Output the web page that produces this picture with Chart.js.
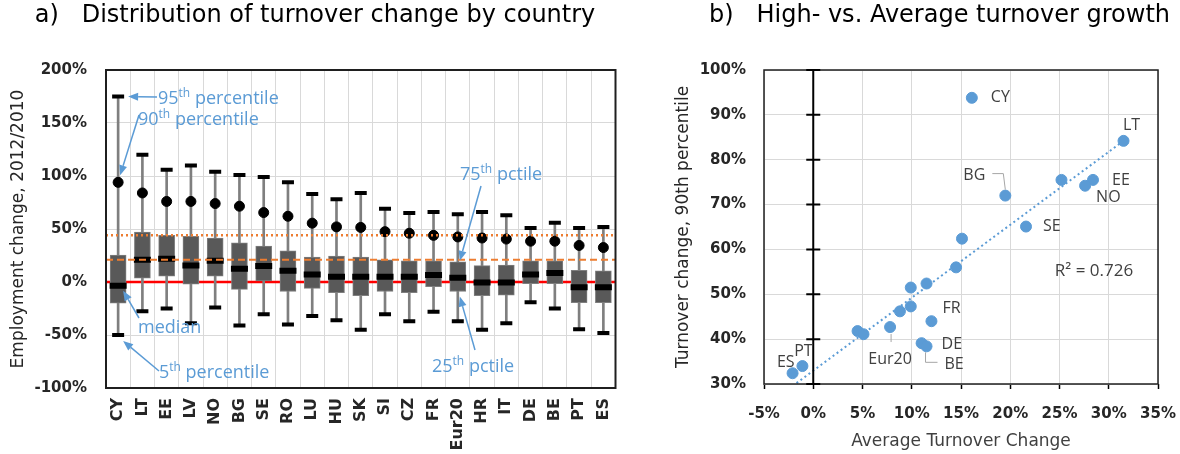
<!DOCTYPE html>
<html lang="en">
<head>
<meta charset="utf-8">
<title>Turnover change by country</title>
<script src="https://cdn.jsdelivr.net/npm/chart.js@4.4.1/dist/chart.umd.min.js"></script>
<style>
    html, body { margin: 0; padding: 0; background: #ffffff; }
    .panel { position: absolute; top: 0; height: 454px; }
    #panel-a { left: 0; width: 630px; }
    #panel-b { left: 630px; width: 550px; }
</style>
</head>
<body>
<div class="panel" id="panel-a"><canvas id="distribution-chart" width="630" height="454"></canvas></div>
<div class="panel" id="panel-b"><canvas id="growth-chart" width="550" height="454"></canvas></div>
<script>
// a) Percentiles of employment change 2012/2010 by country (%)
const countries = ['CY', 'LT', 'EE', 'LV', 'NO', 'BG', 'SE', 'RO', 'LU', 'HU', 'SK', 'SI', 'CZ', 'FR', 'Eur20', 'HR', 'IT', 'DE', 'BE', 'PT', 'ES'];
const pct95 = [175, 120, 106, 110, 104, 101, 99, 94, 83, 78, 84, 69, 65, 66, 64, 66, 63, 51, 56, 51, 52];
const pct90 = [94, 84, 76, 76, 74, 71.5, 65.5, 62, 55.5, 52, 51.5, 47.5, 46, 44, 42.5, 41.5, 40.5, 38.5, 38.5, 34.5, 32.5];
const pct75 = [25.5, 47, 44, 43, 41.5, 37, 34, 29.5, 23.5, 24.5, 23.5, 21, 20, 20, 19, 15.5, 16, 20, 20, 11, 10.5];
const median = [-3.5, 21, 22, 15.5, 20, 12.5, 15, 10.5, 7, 5, 5, 5, 5, 6.5, 4, -0.5, -0.5, 7, 8.5, -5, -5];
const pct25 = [-20, 3.5, 5.5, -2, 5.5, -7, 1, -9, -6, -10, -13, -9, -10, -4.5, -9, -13, -12.5, -1.5, -1.5, -19.5, -19.5];
const pct5 = [-50, -27.5, -25, -39, -24, -41, -30.5, -40, -32, -36, -45, -30.5, -37, -28, -37, -45, -39, -19, -25, -44.5, -48];

// Horizontal reference levels: zero line, dashed and dotted levels
const referenceLevels = [0, 21, 44];

// Tick labels of panel a)
const distributionTicks = [-100, -50, 0, 50, 100, 150, 200];

// b) Average turnover change vs. 90th percentile (%), same country order
const avgTurnover = [16.1, 31.5, 28.4, 25.2, 27.6, 19.5, 21.6, 15.1, 14.5, 11.5, 9.9, 9.9, 8.8, 12.0, 7.8, 4.5, 5.1, 11.0, 11.5, -1.1, -2.1];
const highTurnover = [93.8, 84.2, 75.5, 75.5, 74.2, 72.0, 65.1, 62.4, 56.0, 52.4, 51.5, 47.3, 46.2, 44.0, 42.7, 41.8, 41.1, 39.1, 38.4, 34.0, 32.4];

// Linear trend end points and fit
const trendX = [-1.7, 31.5];
const trendY = [30.2, 84.2];
const rSquared = 0.726;

// Tick labels of panel b)
const growthXTicks = [-5, 0, 5, 10, 15, 20, 25, 30, 35];
const growthYTicks = [30, 40, 50, 60, 70, 80, 90, 100];

const ChartManager = {
    // Chart references
    charts: {
        distribution: null,
        growth: null
    },

    // Main colours
    colors: {
        box: '#595959',
        boxBorder: '#7f7f7f',
        whisker: '#7f7f7f',
        marker: '#000000',
        note: '#5b9bd5',
        point: '#5b9bd5',
        grid: '#d9d9d9',
        frame: '#1f1f1f',
        text: '#262626',
        label: '#404040',
        leader: '#a6a6a6'
    },

    fonts: {
        title: { family: "'DejaVu Sans', sans-serif", size: 24, weight: 'normal' },
        axisTitle: { family: "'DejaVu Sans', sans-serif", size: 17 },
        tick: { family: "'DejaVu Sans', sans-serif", size: 15, weight: 'bold' },
        category: { family: "'DejaVu Sans', sans-serif", size: 16, weight: 'bold' },
        note: "18px 'Open Sans', sans-serif",
        noteSup: "12px 'Open Sans', sans-serif",
        label: "16px 'Open Sans', sans-serif",
        fit: "17px 'Open Sans', sans-serif"
    },

    // Styles of the reference levels (same order as referenceLevels)
    referenceStyles: [
        { color: '#ff0000', width: 2.5, dash: [], onTop: false },
        { color: '#ed7d31', width: 2, dash: [7, 4], onTop: true },
        { color: '#ed7d31', width: 2.5, dash: [2, 3], onTop: true }
    ],

    // Blue callouts of panel a): text, start of the arrow, and the mark it points at
    callouts: [
        { parts: [['95', false], ['th', true], [' percentile', false]], textX: 158, baseline: 104, from: [157, 97], series: pct95, country: 'CY', dx: 10, dy: 0 },
        { parts: [['90', false], ['th', true], [' percentile', false]], textX: 138, baseline: 125, from: [139, 115], series: pct90, country: 'CY', dx: 2, dy: -7 },
        { parts: [['median', false]], textX: 138, baseline: 333, from: [139, 318], series: median, country: 'CY', dx: 5, dy: 5 },
        { parts: [['5', false], ['th', true], [' percentile', false]], textX: 159, baseline: 378, from: [159, 371], series: pct5, country: 'CY', dx: 5, dy: 6 },
        { parts: [['75', false], ['th', true], [' pctile', false]], textX: 460, baseline: 180, from: [481, 186], series: pct75, country: 'Eur20', dx: 2, dy: -1 },
        { parts: [['25', false], ['th', true], [' pctile', false]], textX: 432, baseline: 372, from: [475, 350], series: pct25, country: 'Eur20', dx: 2, dy: 5 }
    ],

    // Point labels of panel b), offsets in pixels from the marker
    pointLabels: {
        CY: { dx: 19, dy: 0, align: 'left' },
        LT: { dx: 8, dy: -15, align: 'center' },
        BG: { dx: -20, dy: -20, align: 'right', leader: [[-13, -22], [-2, -22], [0, -6]] },
        EE: { dx: 19, dy: 1, align: 'left' },
        NO: { dx: 11, dy: 12, align: 'left' },
        SE: { dx: 17, dy: 0, align: 'left' },
        FR: { dx: 11, dy: -13, align: 'left' },
        DE: { dx: 20, dy: 1, align: 'left' },
        BE: { dx: 18, dy: 18, align: 'left', leader: [[-1, 6], [-1, 16], [11, 16]] },
        Eur20: { dx: 0, dy: 32, align: 'center', leader: [[1, 7], [1, 15]] },
        ES: { dx: 2, dy: -11, align: 'right' },
        PT: { dx: 1, dy: -15, align: 'center' }
    },

    /**
     * Initialise both panels
     */
    initCharts: function() {
        Chart.defaults.font.family = "'DejaVu Sans', sans-serif";
        Chart.defaults.color = this.colors.text;

        this.initDistributionChart();
        this.initGrowthChart();
    },

    /**
     * Frame around the plot area
     */
    framePlugin: function(width) {
        const self = this;
        return {
            id: 'plotFrame',
            afterDatasetsDraw: function(chart) {
                const { left, top, right, bottom } = chart.chartArea;
                const ctx = chart.ctx;
                ctx.save();
                ctx.strokeStyle = self.colors.frame;
                ctx.lineWidth = width;
                ctx.strokeRect(left, top, right - left, bottom - top);
                ctx.restore();
            }
        };
    },

    /**
     * Horizontal reference levels of panel a)
     */
    referencePlugin: function() {
        const self = this;
        const draw = function(chart, onTop) {
            const ctx = chart.ctx;
            const area = chart.chartArea;
            const y = chart.scales.y;
            ctx.save();
            referenceLevels.forEach((level, i) => {
                const style = self.referenceStyles[i];
                if (style.onTop !== onTop) return;
                const py = y.getPixelForValue(level);
                ctx.strokeStyle = style.color;
                ctx.lineWidth = style.width;
                ctx.setLineDash(style.dash);
                ctx.beginPath();
                ctx.moveTo(area.left, py);
                ctx.lineTo(area.right, py);
                ctx.stroke();
            });
            ctx.restore();
        };
        return {
            id: 'referenceLevels',
            beforeDatasetsDraw: chart => draw(chart, false),
            afterDatasetsDraw: chart => draw(chart, true)
        };
    },

    /**
     * Arrow with a filled head at (x2, y2)
     */
    drawArrow: function(ctx, x1, y1, x2, y2) {
        const angle = Math.atan2(y2 - y1, x2 - x1);
        const len = 10;
        const half = 4;
        const bx = x2 - len * Math.cos(angle);
        const by = y2 - len * Math.sin(angle);
        ctx.beginPath();
        ctx.moveTo(x1, y1);
        ctx.lineTo(bx, by);
        ctx.stroke();
        ctx.beginPath();
        ctx.moveTo(x2, y2);
        ctx.lineTo(bx + half * Math.sin(angle), by - half * Math.cos(angle));
        ctx.lineTo(bx - half * Math.sin(angle), by + half * Math.cos(angle));
        ctx.closePath();
        ctx.fill();
    },

    /**
     * Callout texts and arrows of panel a)
     */
    calloutPlugin: function() {
        const self = this;
        return {
            id: 'callouts',
            afterDatasetsDraw: function(chart) {
                const ctx = chart.ctx;
                const x = chart.scales.x;
                const y = chart.scales.y;
                ctx.save();
                ctx.strokeStyle = self.colors.note;
                ctx.fillStyle = self.colors.note;
                ctx.lineWidth = 1.5;
                ctx.textBaseline = 'alphabetic';
                ctx.textAlign = 'left';
                self.callouts.forEach(c => {
                    const index = countries.indexOf(c.country);
                    const tipX = x.getPixelForValue(index) + c.dx;
                    const tipY = y.getPixelForValue(c.series[index]) + c.dy;
                    self.drawArrow(ctx, c.from[0], c.from[1], tipX, tipY);

                    // Text with raised "th"
                    let px = c.textX;
                    c.parts.forEach(([text, sup]) => {
                        ctx.font = sup ? self.fonts.noteSup : self.fonts.note;
                        ctx.fillText(text, px, sup ? c.baseline - 7 : c.baseline);
                        px += ctx.measureText(text).width;
                    });
                });
                ctx.restore();
            }
        };
    },

    /**
     * Inicialise panel a): box plots per country
     */
    initDistributionChart: function() {
        const ctx = document.getElementById('distribution-chart').getContext('2d');

        this.charts.distribution = new Chart(ctx, {
            type: 'bar',
            data: {
                labels: countries,
                datasets: [
                    {
                        label: '5th - 95th',
                        data: countries.map((c, i) => [pct5[i], pct95[i]]),
                        backgroundColor: this.colors.whisker,
                        barThickness: 2,
                        grouped: false,
                        order: 6
                    },
                    {
                        label: '25th - 75th',
                        data: countries.map((c, i) => [pct25[i], pct75[i]]),
                        backgroundColor: this.colors.box,
                        borderColor: this.colors.boxBorder,
                        borderWidth: 1,
                        borderSkipped: false,
                        barThickness: 16,
                        grouped: false,
                        order: 5
                    },
                    {
                        type: 'line',
                        label: '95th',
                        data: pct95,
                        showLine: false,
                        pointStyle: 'line',
                        pointRadius: 6,
                        pointBorderWidth: 4,
                        pointBorderColor: this.colors.marker,
                        order: 2
                    },
                    {
                        type: 'line',
                        label: '5th',
                        data: pct5,
                        showLine: false,
                        pointStyle: 'line',
                        pointRadius: 6,
                        pointBorderWidth: 4,
                        pointBorderColor: this.colors.marker,
                        order: 2
                    },
                    {
                        type: 'line',
                        label: 'median',
                        data: median,
                        showLine: false,
                        pointStyle: 'line',
                        pointRadius: 8.5,
                        pointBorderWidth: 6,
                        pointBorderColor: this.colors.marker,
                        order: 1
                    },
                    {
                        type: 'line',
                        label: '90th',
                        data: pct90,
                        showLine: false,
                        pointStyle: 'circle',
                        pointRadius: 5,
                        pointBorderWidth: 1,
                        pointBackgroundColor: this.colors.marker,
                        pointBorderColor: this.colors.marker,
                        order: 1
                    }
                ]
            },
            options: {
                responsive: false,
                animation: false,
                events: [],
                layout: { padding: 0 },
                plugins: {
                    legend: { display: false },
                    tooltip: { enabled: false },
                    title: {
                        display: true,
                        text: 'a)   Distribution of turnover change by country',
                        color: '#000000',
                        font: this.fonts.title,
                        align: 'center',
                        padding: { top: 1, bottom: 40.2 }
                    }
                },
                scales: {
                    x: {
                        grid: { color: this.colors.grid, drawTicks: false },
                        border: { display: false },
                        ticks: {
                            font: this.fonts.category,
                            color: this.colors.text,
                            minRotation: 90,
                            maxRotation: 90,
                            autoSkip: false,
                            padding: 10
                        },
                        afterFit: function(scale) {
                            scale.height = 66;
                            scale.paddingLeft = 0;
                            scale.paddingRight = 13;
                        }
                    },
                    y: {
                        min: distributionTicks[0],
                        max: distributionTicks[distributionTicks.length - 1],
                        grid: { color: this.colors.grid, drawTicks: false },
                        border: { display: false },
                        ticks: {
                            stepSize: distributionTicks[1] - distributionTicks[0],
                            font: this.fonts.tick,
                            color: this.colors.text,
                            padding: 19,
                            callback: value => value + '%'
                        },
                        title: {
                            display: true,
                            text: 'Employment change, 2012/2010',
                            font: this.fonts.axisTitle,
                            color: this.colors.text,
                            padding: { top: 8, bottom: 0 }
                        },
                        afterFit: function(scale) {
                            scale.width = 106;
                        }
                    }
                }
            },
            plugins: [this.referencePlugin(), this.framePlugin(2), this.calloutPlugin()]
        });
    },

    /**
     * Vertical axis through x = 0 with crossing tick marks
     */
    zeroAxisPlugin: function() {
        return {
            id: 'zeroAxis',
            afterDatasetsDraw: function(chart) {
                const ctx = chart.ctx;
                const x = chart.scales.x;
                const y = chart.scales.y;
                const px = x.getPixelForValue(0);
                ctx.save();
                ctx.strokeStyle = '#000000';
                ctx.lineWidth = 2;
                ctx.beginPath();
                ctx.moveTo(px, chart.chartArea.top);
                ctx.lineTo(px, chart.chartArea.bottom);
                growthYTicks.forEach(v => {
                    const py = y.getPixelForValue(v);
                    ctx.moveTo(px - 7, py);
                    ctx.lineTo(px + 7, py);
                });
                ctx.stroke();
                ctx.restore();
            }
        };
    },

    /**
     * Country labels, leader lines and R² of panel b)
     */
    pointLabelPlugin: function() {
        const self = this;
        return {
            id: 'pointLabels',
            afterDatasetsDraw: function(chart) {
                const ctx = chart.ctx;
                const x = chart.scales.x;
                const y = chart.scales.y;
                ctx.save();
                ctx.font = self.fonts.label;
                ctx.textBaseline = 'middle';
                countries.forEach((country, i) => {
                    const place = self.pointLabels[country];
                    if (!place) return;
                    const px = x.getPixelForValue(avgTurnover[i]);
                    const py = y.getPixelForValue(highTurnover[i]);
                    if (place.leader) {
                        ctx.strokeStyle = self.colors.leader;
                        ctx.lineWidth = 1;
                        ctx.beginPath();
                        place.leader.forEach(([lx, ly], k) => {
                            if (k === 0) ctx.moveTo(px + lx, py + ly);
                            else ctx.lineTo(px + lx, py + ly);
                        });
                        ctx.stroke();
                    }
                    ctx.fillStyle = self.colors.label;
                    ctx.textAlign = place.align;
                    ctx.fillText(country, px + place.dx, py + place.dy);
                });

                // Goodness of fit of the trend line
                ctx.font = self.fonts.fit;
                ctx.textAlign = 'center';
                ctx.fillStyle = self.colors.label;
                ctx.fillText('R² = ' + rSquared.toFixed(3), x.getPixelForValue(28.5), y.getPixelForValue(55.1));
                ctx.restore();
            }
        };
    },

    /**
     * Initialise panel b): scatter with trend line
     */
    initGrowthChart: function() {
        const ctx = document.getElementById('growth-chart').getContext('2d');

        this.charts.growth = new Chart(ctx, {
            type: 'scatter',
            data: {
                datasets: [
                    {
                        label: 'Countries',
                        data: countries.map((c, i) => ({ x: avgTurnover[i], y: highTurnover[i] })),
                        pointRadius: 5.5,
                        backgroundColor: this.colors.point,
                        borderColor: this.colors.point,
                        order: 1
                    },
                    {
                        type: 'line',
                        label: 'Trend',
                        data: trendX.map((v, i) => ({ x: v, y: trendY[i] })),
                        borderColor: this.colors.point,
                        borderWidth: 2,
                        borderDash: [2, 3],
                        pointRadius: 0,
                        fill: false,
                        order: 2
                    }
                ]
            },
            options: {
                responsive: false,
                animation: false,
                events: [],
                layout: { padding: { right: 10 } },
                plugins: {
                    legend: { display: false },
                    tooltip: { enabled: false },
                    title: {
                        display: true,
                        text: 'b)   High- vs. Average turnover growth',
                        color: '#000000',
                        font: this.fonts.title,
                        align: 'end',
                        padding: { top: 1, bottom: 40.2 }
                    }
                },
                scales: {
                    x: {
                        type: 'linear',
                        min: growthXTicks[0],
                        max: growthXTicks[growthXTicks.length - 1],
                        grid: { color: this.colors.grid, tickColor: '#000000', tickLength: 5, tickWidth: 1.5 },
                        border: { display: false },
                        ticks: {
                            stepSize: growthXTicks[1] - growthXTicks[0],
                            font: this.fonts.tick,
                            color: this.colors.text,
                            padding: 16,
                            callback: value => value + '%'
                        },
                        title: {
                            display: true,
                            text: 'Average Turnover Change',
                            font: this.fonts.axisTitle,
                            color: this.colors.label,
                            padding: { top: 0, bottom: 2 }
                        },
                        afterFit: function(scale) {
                            scale.height = 70;
                            scale.paddingLeft = 0;
                            scale.paddingRight = 22;
                        }
                    },
                    y: {
                        min: growthYTicks[0],
                        max: growthYTicks[growthYTicks.length - 1],
                        grid: { color: this.colors.grid, drawTicks: false },
                        border: { display: false },
                        ticks: {
                            stepSize: growthYTicks[1] - growthYTicks[0],
                            font: this.fonts.tick,
                            color: this.colors.text,
                            padding: 18,
                            callback: value => value + '%'
                        },
                        title: {
                            display: true,
                            text: 'Turnover change, 90th percentile',
                            font: this.fonts.axisTitle,
                            color: this.colors.text,
                            padding: { top: 43, bottom: 0 }
                        },
                        afterFit: function(scale) {
                            scale.width = 134;
                        }
                    }
                }
            },
            plugins: [this.framePlugin(1.5), this.zeroAxisPlugin(), this.pointLabelPlugin()]
        });
    }
};

ChartManager.initCharts();
</script>
</body>
</html>
